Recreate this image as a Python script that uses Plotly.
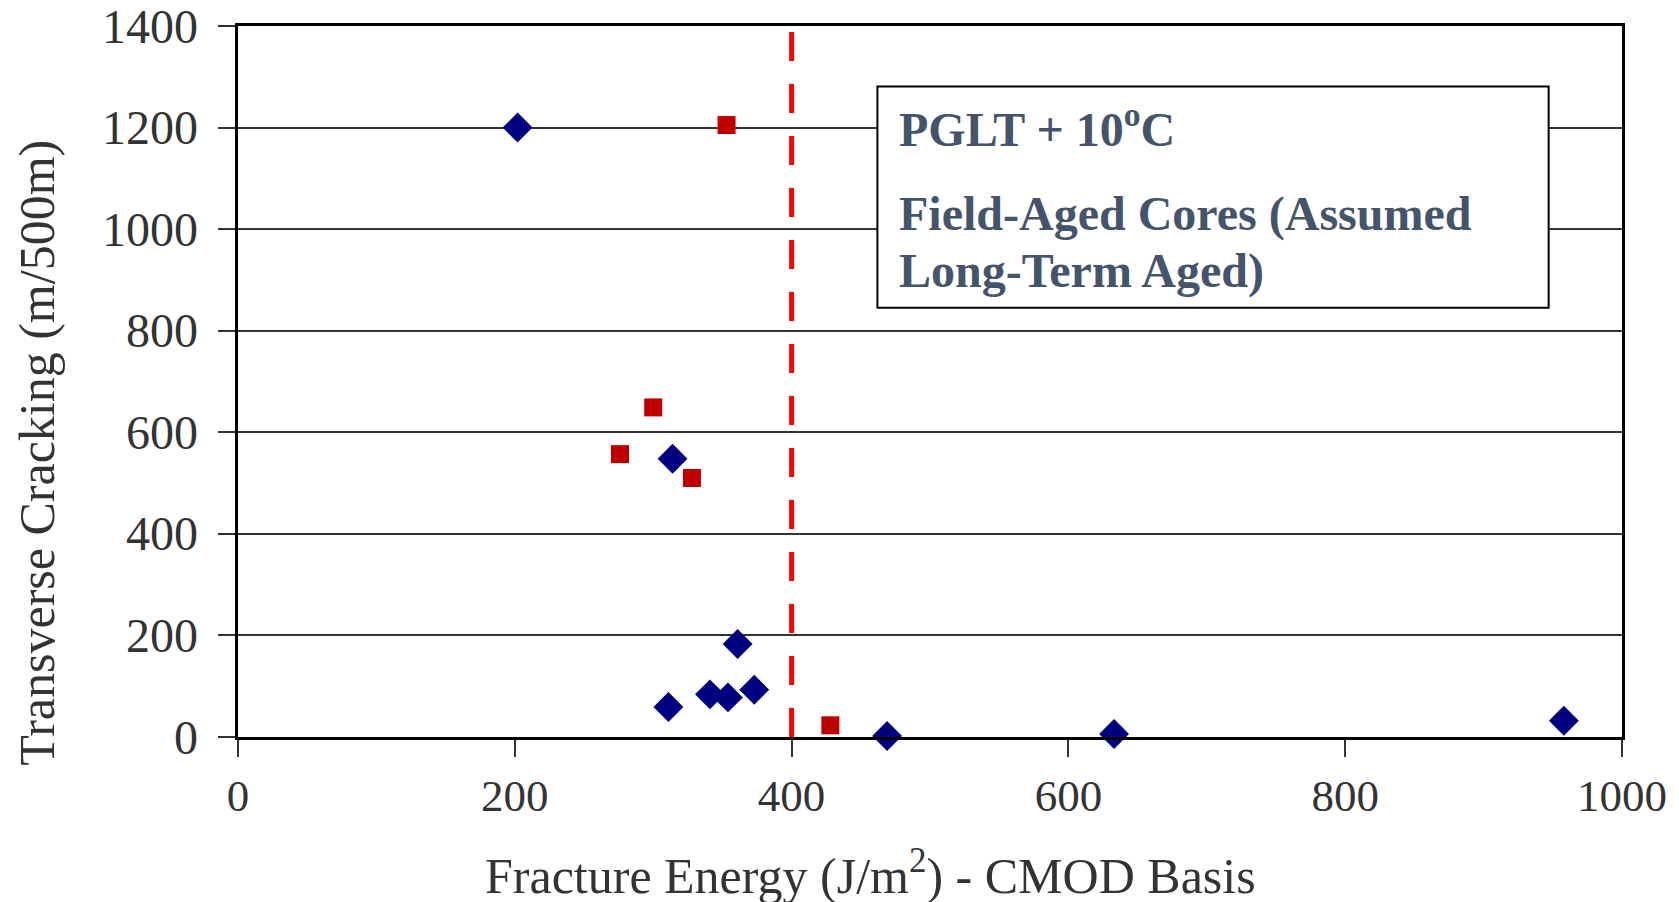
import plotly.graph_objects as go

# Data
diamond_x = [202, 314, 361, 311, 341, 354, 373, 469, 633, 958]
diamond_y = [1200, 548, 183, 59, 84, 78, 93, 2, 6, 32]
square_x = [353, 300, 276, 328, 428]
square_y = [1205, 649, 557, 510, 23]
threshold_x = 400
x_ticks = [0, 200, 400, 600, 800, 1000]
y_ticks = [0, 200, 400, 600, 800, 1000, 1200, 1400]

SERIF = "Liberation Serif, Times New Roman, serif"
TXT = "#44546A"
AX = "#333333"

fig = go.Figure()
fig.add_trace(go.Scatter(
    x=[threshold_x, threshold_x], y=[0, 1400], mode="lines",
    line=dict(color="#FF0000", width=5, dash="29px,23px"),
    showlegend=False, hoverinfo="skip"))
fig.add_trace(go.Scatter(
    x=diamond_x, y=diamond_y, mode="markers",
    marker=dict(symbol="diamond", size=23, color="#000080"),
    showlegend=False, cliponaxis=False))
fig.add_trace(go.Scatter(
    x=square_x, y=square_y, mode="markers",
    marker=dict(symbol="square", size=18, color="#C00000"),
    showlegend=False, cliponaxis=False))

# annotation box
fig.add_shape(type="rect", xref="x", yref="y", x0=462, x1=947, y0=845, y1=1281,
              line=dict(color="black", width=2), fillcolor="white", layer="above")
box_lines = [("<b>PGLT + 10<sup>o</sup>C</b>", 1203),
             ("<b>Field-Aged Cores (Assumed</b>", 1030),
             ("<b>Long-Term Aged)</b>", 917)]
for txt, yy in box_lines:
    fig.add_annotation(x=476, y=yy, xref="x", yref="y", xanchor="left", yanchor="middle",
                       text=txt, showarrow=False,
                       font=dict(family=SERIF, size=48, color=TXT))

# y tick labels (drawn as annotations so the top one is not hidden at the page edge)
for v in y_ticks:
    fig.add_annotation(x=0, y=v, xref="paper", yref="y", xanchor="right", yanchor="middle",
                       xshift=-38, text=str(v), showarrow=False,
                       font=dict(family=SERIF, size=48, color=AX))

# axis titles
fig.add_annotation(x=0.457, y=-0.19, xref="paper", yref="paper",
                   xanchor="center", yanchor="middle", showarrow=False,
                   text="Fracture Energy (J/m<sup>2</sup>) - CMOD Basis",
                   font=dict(family=SERIF, size=50, color=AX))
fig.add_annotation(x=-0.1452, y=0.40, xref="paper", yref="paper",
                   xanchor="center", yanchor="middle", showarrow=False, textangle=-90,
                   text="Transverse Cracking (m/500m)",
                   font=dict(family=SERIF, size=50, color=AX))

fig.update_layout(
    width=1679, height=902,
    margin=dict(l=230, r=65, t=18, b=173, autoexpand=False),
    plot_bgcolor="white", paper_bgcolor="white",
    font=dict(family=SERIF, color=AX),
)
fig.update_xaxes(
    range=[0, 1000], tickvals=x_ticks, showgrid=False, zeroline=False,
    showline=True, linecolor="black", linewidth=3, mirror=True,
    ticks="outside", ticklen=17, tickwidth=2, tickcolor=AX,
    tickfont=dict(family=SERIF, size=45, color=AX), automargin=False,
)
fig.update_yaxes(
    range=[0, 1400], tickvals=y_ticks, showgrid=True, gridcolor=AX, gridwidth=2,
    zeroline=False, showticklabels=False,
    showline=True, linecolor="black", linewidth=3, mirror=True,
    ticks="outside", ticklen=17, tickwidth=2, tickcolor=AX, automargin=False,
)
fig.write_html("out.html")
